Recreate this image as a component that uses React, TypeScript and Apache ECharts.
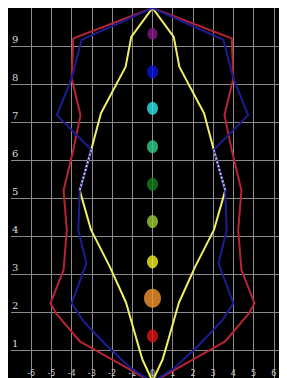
import React, { useEffect, useRef } from "react";
import * as echarts from "echarts";

// Right halves of the symmetric outlines, [x, y] from top to bottom
const redRight: [number, number][] = [
  [0, 10], [3.92, 9.2], [4.0, 8.15], [3.56, 7.18], [3.92, 6.26], [4.4, 5.2],
  [4.24, 4.16], [4.4, 3.1], [5.05, 2.23], [4.75, 1.95], [3.6, 1.23], [0, 0.15],
];
const blueRight: [number, number][] = [
  [0, 10], [3.51, 9.16], [4.0, 8.15], [4.73, 7.18], [3.03, 6.27], [3.6, 5.2],
  [3.67, 4.16], [3.27, 3.28], [4.0, 2.23], [3.42, 1.76], [2.3, 1.13], [1.09, 0.53], [0, 0.15],
];
const yellowRight: [number, number][] = [
  [0, 10], [1.05, 9.24], [1.33, 8.45], [2.55, 7.23], [3.03, 6.27], [3.6, 5.2],
  [3.04, 4.16], [2.12, 3.2], [1.31, 2.25], [0.8, 1.3], [0.5, 0.75], [0, 0.18],
];
// segment where blue and yellow coincide
const overlapRight: [number, number][] = [[3.03, 6.27], [3.6, 5.2]];

// Dots on the centre line
const dotY = [9.32, 8.32, 7.36, 6.35, 5.36, 4.38, 3.32, 2.36, 1.37];
const dotColors = ["#84168a", "#0a12e0", "#2ee6ea", "#2fd08c", "#17801a", "#9ccc34", "#f4f020", "#f4962c", "#e01414"];
const dotSizes: [number, number][] = [
  [10, 12], [11, 13], [11, 13], [11, 13], [11, 13], [11, 13], [11, 13], [17, 19], [11, 13],
];

const xTicks = { min: -7, max: 7, interval: 1 };
const yTicks = { min: 0, max: 10, interval: 1 };

function closed(right: [number, number][]): [number, number][] {
  const left = right.slice().reverse().map(([x, y]) => [-x, y] as [number, number]);
  return right.concat(left);
}

export default function App() {
  const ref = useRef<HTMLDivElement>(null);
  useEffect(() => {
    if (!ref.current) return;
    const chart = echarts.init(ref.current, null, { renderer: "svg" });
    const lineBase = (name: string, data: [number, number][], color: string, z: number) => ({
      name,
      type: "line",
      data,
      symbol: "none",
      z,
      lineStyle: { color, width: 2 },
    });
    chart.setOption({
      animation: false,
      backgroundColor: "#000",
      grid: { left: 0, right: 0, top: 0, bottom: 0 },
      xAxis: {
        type: "value",
        ...xTicks,
        axisLine: { show: false },
        axisTick: { show: false },
        axisLabel: {
          inside: true,
          margin: 11,
          color: "#c8c8c8",
          fontSize: 8,
          fontFamily: "DejaVu Sans",
          formatter: (v: number) => (Math.abs(v) >= 7 ? "" : String(v)),
        },
        splitLine: { show: true, showMinLine: false, showMaxLine: false, lineStyle: { color: "#8a8a8a", width: 1 } },
      },
      yAxis: {
        type: "value",
        ...yTicks,
        axisLine: { show: false },
        axisTick: { show: false },
        axisLabel: {
          inside: true,
          margin: 1,
          color: "#dcdcdc",
          fontSize: 10,
          fontFamily: "DejaVu Serif",
          verticalAlign: "bottom",
          padding: [0, 0, 2, 0],
          formatter: (v: number) => (v <= 0 || v >= 10 ? "" : String(v)),
        },
        splitLine: { show: true, showMinLine: false, showMaxLine: false, lineStyle: { color: "#8a8a8a", width: 1 } },
      },
      series: [
        lineBase("red", closed(redRight), "#b82434", 2),
        lineBase("yellow", closed(yellowRight), "#f0f064", 3),
        lineBase("blue", closed(blueRight), "#1c1c96", 4),
        {
          type: "line",
          data: overlapRight,
          symbol: "none",
          z: 5,
          lineStyle: { color: "#d8d8ff", width: 1.5, type: [2, 2] },
        },
        {
          type: "line",
          data: overlapRight.map(([x, y]) => [-x, y]),
          symbol: "none",
          z: 5,
          lineStyle: { color: "#d8d8ff", width: 1.5, type: [2, 2] },
        },
        {
          type: "scatter",
          z: 6,
          data: dotY.map((y, i) => ({
            value: [0, y],
            symbolSize: dotSizes[i],
            itemStyle: { color: dotColors[i] },
          })),
        },
      ],
    });
    return () => chart.dispose();
  }, []);
  return (
    <div style={{ width: 279, height: 370, overflow: "hidden", background: "#000" }}>
      <div ref={ref} style={{ width: 289, height: 380 }} />
    </div>
  );
}
